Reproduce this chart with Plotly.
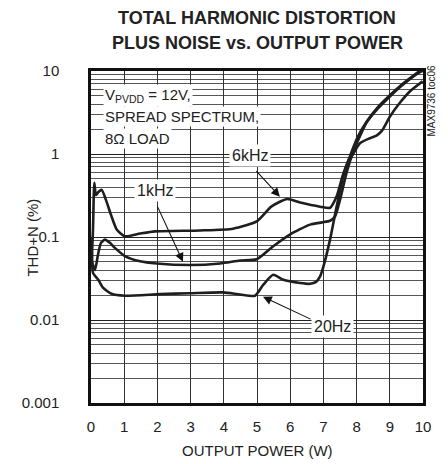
import plotly.graph_objects as go

# ---- data ----
x_6k = [0.015, 0.06, 0.10, 0.15, 0.23, 0.32, 0.45, 0.60, 0.78, 1.02, 1.48, 1.93, 3.28, 4.28, 4.99, 5.44, 5.91, 6.30, 6.90, 7.20, 7.40, 7.59, 7.80, 7.86, 8.10, 8.40, 8.61, 8.76, 9.01, 9.31, 9.61, 9.99]
y_6k = [0.046, 0.122, 0.45, 0.32, 0.35, 0.37, 0.28, 0.186, 0.122, 0.102, 0.110, 0.117, 0.120, 0.126, 0.154, 0.234, 0.287, 0.26, 0.232, 0.225, 0.309, 0.565, 0.90, 0.95, 1.35, 1.55, 1.68, 1.90, 2.85, 4.17, 5.7, 7.5]

x_1k = [0.03, 0.12, 0.21, 0.30, 0.42, 0.57, 0.72, 1.02, 1.48, 1.98, 2.98, 3.89, 4.49, 4.99, 5.48, 5.99, 6.60, 6.96, 7.20, 7.35, 7.50, 7.70, 7.89, 8.10, 8.30, 8.61, 9.01, 9.40, 9.91, 10.0]
y_1k = [0.050, 0.040, 0.061, 0.085, 0.093, 0.085, 0.074, 0.059, 0.051, 0.048, 0.046, 0.048, 0.052, 0.054, 0.077, 0.107, 0.141, 0.150, 0.157, 0.177, 0.28, 0.60, 1.04, 1.64, 2.39, 3.43, 4.97, 6.87, 9.7, 10.0]

x_20 = [0.0, 0.03, 0.06, 0.22, 0.36, 0.62, 1.02, 2.08, 2.98, 3.98, 4.49, 4.94, 5.19, 5.49, 5.79, 6.30, 6.60, 6.78, 6.90, 7.00, 7.20, 7.40, 7.60, 7.80, 8.04, 8.30, 8.61, 9.01, 9.40, 9.91]
y_20 = [0.098, 0.061, 0.037, 0.0305, 0.0245, 0.0207, 0.0196, 0.0205, 0.021, 0.0215, 0.0203, 0.0196, 0.0266, 0.035, 0.0305, 0.0279, 0.0273, 0.0288, 0.0335, 0.044, 0.093, 0.234, 0.54, 0.94, 1.62, 2.45, 3.55, 5.13, 7.07, 10.1]

x_ticks = [0, 1, 2, 3, 4, 5, 6, 7, 8, 9, 10]
y_ticks = [0.001, 0.01, 0.1, 1, 10]
y_tick_text = ["0.001", "0.01", "0.1", "1", "10"]
y_minor = [m * d for d in [0.001, 0.01, 0.1, 1] for m in range(2, 10)]

FONT = "Liberation Sans, Arial, sans-serif"
LINE = "#1e1e1e"

fig = go.Figure()
for xs, ys in [(x_6k, y_6k), (x_1k, y_1k), (x_20, y_20)]:
    fig.add_trace(go.Scatter(x=xs, y=ys, mode="lines",
                             line=dict(color=LINE, width=2.6, shape="spline", smoothing=0.6),
                             showlegend=False, hoverinfo="skip"))

fig.update_layout(
    width=448, height=464,
    margin=dict(l=91, r=25, t=71, b=61),
    paper_bgcolor="white", plot_bgcolor="white",
    font=dict(family=FONT, size=15, color="#222"),
    showlegend=False,
)
fig.update_xaxes(
    range=[0, 10], tickvals=x_ticks, ticks="", ticklabelstandoff=8,
    showgrid=True, gridcolor="#333", gridwidth=1,
    showline=True, mirror=True, linecolor="#111", linewidth=2.5,
    zeroline=False, tickfont=dict(size=15, family=FONT),
)
fig.update_yaxes(
    type="log", range=[-3, 1], tickvals=y_ticks, ticktext=y_tick_text,
    ticks="", ticklabelstandoff=26,
    showgrid=True, gridcolor="#222", gridwidth=1.2,
    minor=dict(tickvals=y_minor, showgrid=True, gridcolor="#555", gridwidth=1, ticks=""),
    showline=True, mirror=True, linecolor="#111", linewidth=2.5,
    zeroline=False, tickfont=dict(size=15, family=FONT),
)

ann = []
# title lines
ann.append(dict(xref="paper", yref="paper", x=0.5, y=1.161, text="<b>TOTAL HARMONIC DISTORTION</b>",
                showarrow=False, xanchor="center", yanchor="middle", font=dict(size=18, family=FONT, color="#222")))
ann.append(dict(xref="paper", yref="paper", x=0.5, y=1.083, text="<b>PLUS NOISE vs. OUTPUT POWER</b>",
                showarrow=False, xanchor="center", yanchor="middle", font=dict(size=18, family=FONT, color="#222")))
# axis titles
ann.append(dict(xref="paper", yref="paper", x=0.5, y=-0.142, text="OUTPUT POWER (W)",
                showarrow=False, xanchor="center", yanchor="middle", font=dict(size=15, family=FONT)))
ann.append(dict(xref="paper", yref="paper", x=-0.175, y=0.498, text="THD+N (%)", textangle=-90,
                showarrow=False, xanchor="center", yanchor="middle", font=dict(size=15, family=FONT)))
# side text
ann.append(dict(xref="paper", yref="paper", x=1.027, y=0.911, text="MAX9736 toc06", textangle=-90,
                showarrow=False, xanchor="center", yanchor="middle", font=dict(size=10, family=FONT)))
# condition text
for txt, yy in [("V<sub>PVDD</sub> = 12V,", 0.704), ("SPREAD SPECTRUM,", 0.451), ("8\u03a9 LOAD", 0.186)]:
    ann.append(dict(xref="x", yref="y", x=0.36, y=yy, text=txt, showarrow=False,
                    xanchor="left", yanchor="middle", bgcolor="white", borderpad=1,
                    font=dict(size=15, family=FONT)))
# arrows (tail -> head) and labels
for (lx, ly, lab), (tx, ty, hx, hy) in [
    ((4.79, -0.019, "6kHz"), (4.94, -0.188, 5.69, -0.514)),
    ((1.93, -0.441, "1kHz"), (1.99, -0.622, 2.77, -1.298)),
    ((7.26, -2.082, "20Hz"), (6.66, -1.998, 5.18, -1.720)),
]:
    ann.append(dict(xref="x", yref="y", axref="x", ayref="y", x=hx, y=hy, ax=tx, ay=ty, text="",
                    showarrow=True, arrowhead=2, arrowsize=1.6, arrowwidth=1.1, arrowcolor="#111",
                    standoff=0, startstandoff=0))
    ann.append(dict(xref="x", yref="y", x=lx, y=ly, text=lab, showarrow=False,
                    xanchor="center", yanchor="middle", bgcolor="white", borderpad=2,
                    font=dict(size=16, family=FONT)))
fig.update_layout(annotations=ann)

fig.write_html("out.html")
